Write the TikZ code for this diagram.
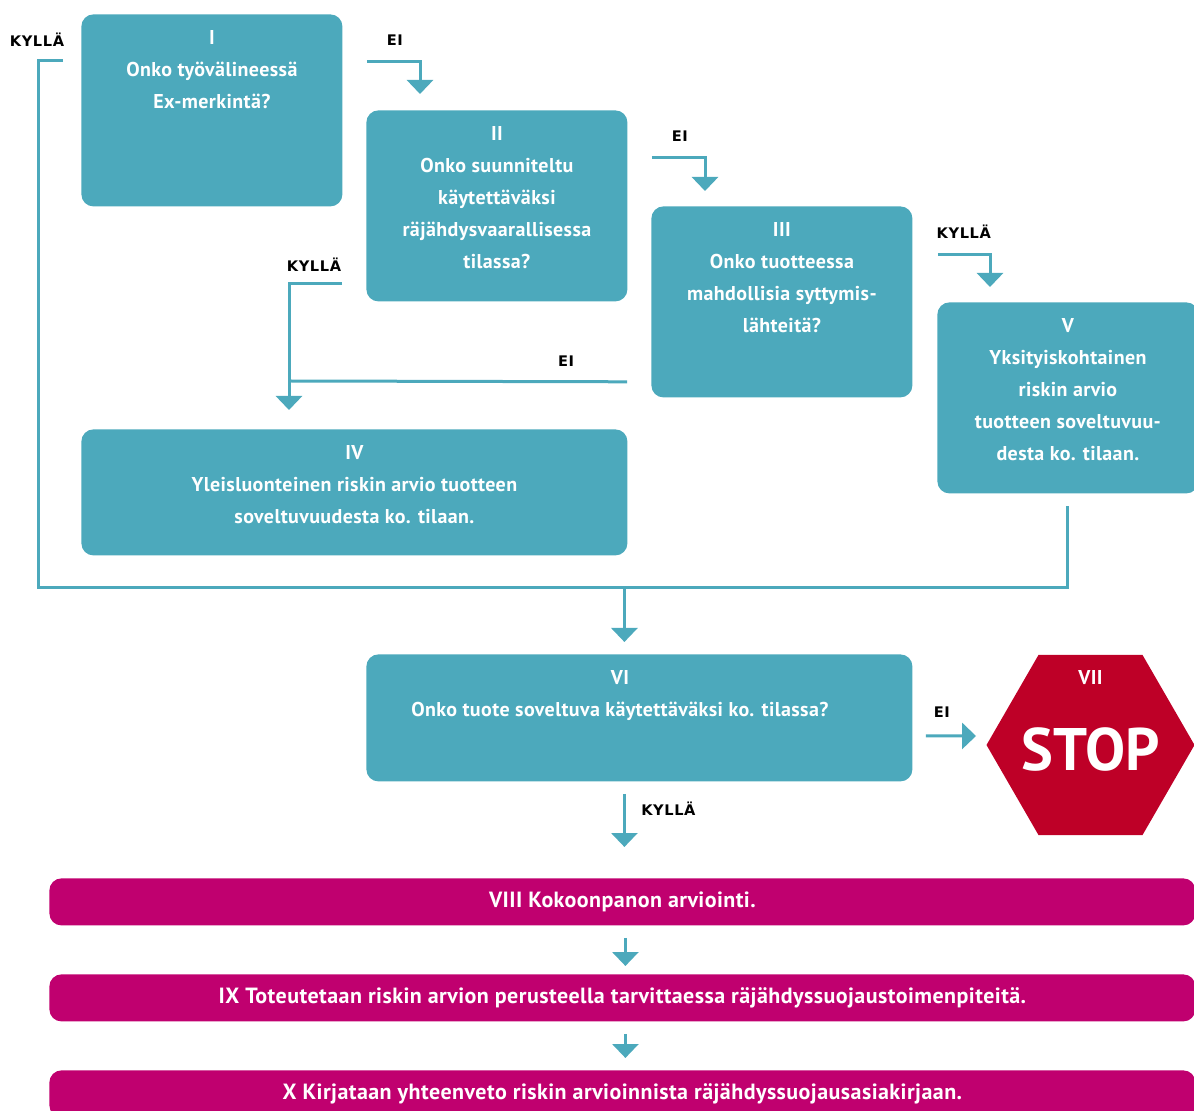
\documentclass[tikz,border=0pt]{standalone}
\usepackage{fontspec}
\setmainfont{PT Sans}
\newfontfamily\boxfamily[LetterSpace=2]{PT Sans}
\newfontfamily\lblfont[LetterSpace=4]{DejaVu Sans}
\usetikzlibrary{positioning,calc,shapes.geometric,arrows.meta}
\definecolor{flowteal}{HTML}{4CA9BC}
\definecolor{flowpink}{HTML}{C0006F}
\definecolor{stopred}{HTML}{BE0027}
\newcommand{\boxfont}{\boxfamily\fontsize{10}{16}\selectfont\bfseries}
\newcommand{\barfont}{\boxfamily\fontsize{11}{16}\selectfont\bfseries}

\begin{document}
\begin{tikzpicture}[x=0.5pt,y=-0.5pt,>={Triangle[width=13pt,length=7pt]},
    ask node/.style={fill=flowteal,rounded corners=6pt,anchor=north west,inner sep=0pt},
    ask text/.style={text=white,font=\boxfont,align=center,inner sep=0pt,anchor=north,yshift=-8pt},
    stop text/.style={text=white,font=\bfseries\fontsize{30}{30}\selectfont,inner sep=0pt,yshift=-2.5pt},
    do node/.style={fill=flowpink,rounded corners=6pt,anchor=north west,inner sep=0pt,
                    minimum width=573pt,minimum height=23.5pt,text=white,font=\barfont},
    answer/.style={font=\lblfont\bfseries\fontsize{7.3}{9}\selectfont,inner sep=0pt},
    flow/.style={draw=flowteal,line width=1.5pt}
   ]
  \useasboundingbox (0,0) rectangle (1194,1111);
  \clip (0,0) rectangle (1194,1111);

  % questions
  \node[ask node,minimum width=130.5pt,minimum height=96pt,
        label={[ask text]north:{I\\Onko työvälineessä\\Ex-merkintä?}}] (I) at (81,14) {};
  \node[ask node,minimum width=130.5pt,minimum height=95.5pt,
        label={[ask text]north:{II\\Onko suunniteltu\\käytettäväksi\\räjähdysvaarallisessa\\tilassa?}}] (II) at (366,110) {};
  \node[ask node,minimum width=130.5pt,minimum height=95.5pt,
        label={[ask text]north:{III\\Onko tuotteessa\\mahdollisia syttymis-\\lähteitä?}}] (III) at (651,206) {};
  \node[ask node,minimum width=130.5pt,minimum height=95.5pt,
        label={[ask text]north:{V\\Yksityiskohtainen\\riskin arvio\\tuotteen soveltuvuu-\\desta ko. tilaan.}}] (V) at (937,302) {};
  \node[ask node,minimum width=273pt,minimum height=63pt,
        label={[ask text]north:{IV\\Yleisluonteinen riskin arvio tuotteen\\soveltuvuudesta ko. tilaan.}}] (IV) at (81,429) {};
  \node[ask node,minimum width=273pt,minimum height=63.5pt,
        label={[ask text,xshift=-9.75pt]north:{VI\\Onko tuote soveltuva käytettäväksi ko. tilassa?}}] (VI) at (366,654) {};
  \node[regular polygon,regular polygon sides=6,minimum size=104pt,inner sep=0pt,fill=stopred,
        label={[ask text]north:VII},label={[stop text]center:STOP}] (VII) at (1090.5,745) {};

  % actions
  \node[do node] (VIII) at (49,878) {VIII Kokoonpanon arviointi.};
  \node[do node] (IX) at (49,974) {IX Toteutetaan riskin arvion perusteella tarvittaessa räjähdyssuojaustoimenpiteitä.};
  \node[do node] (X) at (49,1070) {X Kirjataan yhteenveto riskin arvioinnista räjähdyssuojausasiakirjaan.};

  % answers
  \node[answer] (yesI) at ($(I.north west)+(-44,26)$) {KYLLÄ};
  \node[answer] (noI) at ($(I.north east)+(52,26)$) {EI};
  \node[answer] (noII) at ($(II.north east)+(52,26)$) {EI};
  \node[answer] (yesII) at ($(II.south west)+(-52,-37)$) {KYLLÄ};
  \node[answer] (yesIII) at ($(III.north east)+(51,26)$) {KYLLÄ};
  \node[answer] (noIII) at ($(III.south west)+(-85,-37)$) {EI};
  \node[answer] (noVI) at ($(VI.east)+(29,-5.5)$) {EI};
  \node[answer] (yesVI) at ($(VI.south)+(29,27)$) {KYLLÄ};

  % connectors
  \coordinate (join) at ($(VI.north)+(-15,-67)$);
  \draw[flow] ($(I.north west)+(-18,47)$) -| ($(I.south west)+(-43,381)$)
      -- ($(V.south)+(0,94)$) -- ($(V.south)+(0,12)$);
  \draw[flow,->] (join) -- ($(VI.north)+(-15,-12)$);
  \draw[flow,->] ($(I.north east)+(24,48)$) -| ($(II.north west)+(54,-16)$);
  \draw[flow,->] ($(II.north east)+(24,48)$) -| ($(III.north west)+(54,-15)$);
  \draw[flow,->] ($(III.north east)+(25,49)$) -| ($(V.north west)+(53,-15)$);
  \draw[flow,->] ($(II.south west)+(-24,-18)$) -| ($(IV.north west)+(208,-19)$);
  \draw[flow] ($(III.south west)+(-24,-16)$) -- ($(IV.north west)+(208,-48)$);
  \draw[flow,->] ($(VI.east)+(13,18)$) -- ($(VII.west)+(-10,-9)$);
  \draw[flow,->] ($(VI.south)+(-15,12)$) -- ($(VIII.north)+(2,-31)$);
  \draw[flow,->] ($(VIII.south)+(3,12)$) -- ($(IX.north)+(3,-8)$);
  \draw[flow,->] ($(IX.south)+(3,12)$) -- ($(X.north)+(3,-12)$);
\end{tikzpicture}
\end{document}
